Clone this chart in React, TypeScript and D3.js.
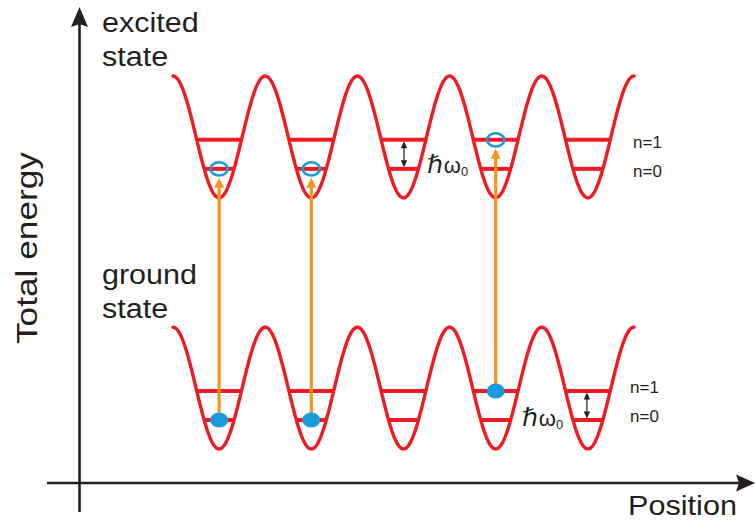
import React from "react";
import * as d3 from "d3";

// Schematic values (energies in units of ħω0 above the ground-state well bottom)
const wells = [0, 1, 2, 3, 4];
const wellDepth = 4.2;
const levelEnergies = [1, 2]; // n=0, n=1
const levelLabels = ["n=0", "n=1"];
const bandOffsets = [0, 8.66]; // ground, excited
const bandNames = [["ground", "state"], ["excited", "state"]];
const atomWells = [0, 1, 3];
const atomLevels = [0, 0, 1];
const spacingArrowWells = [4, 2]; // ground, excited

const RED = "#ed1c24";
const ORANGE = "#f7941d";
const BLUE = "#1a9cdc";
const INK = "#231f20";
const FONT = "'Liberation Sans', Arial, Helvetica, sans-serif";

const approxLen = (t: string, fs: number) => {
  const w: Record<string, number> = { e: 0.556, x: 0.5, c: 0.5, i: 0.222, t: 0.278, d: 0.556, s: 0.5, a: 0.556, g: 0.556, r: 0.333, o: 0.556, u: 0.556, n: 0.556 };
  return t.split("").reduce((s, ch) => s + (w[ch] ?? 0.556), 0) * fs;
};

export default function App() {
  const W = 755, H = 522;
  const x = d3.scaleLinear().domain([-0.5, 4.5]).range([173, 634]);
  const y = d3.scaleLinear().domain([0, 1]).range([449, 420]);
  const V = (u: number) => (wellDepth / 2) * (1 - Math.cos(2 * Math.PI * u));
  const halfWidth = (E: number) => Math.acos(1 - (2 * E) / wellDepth) / (2 * Math.PI);
  const us = d3.range(0, 601).map((i) => -0.5 + (i * 5) / 600);

  const potentials = bandOffsets.map((off) =>
    d3.line<number>().x((u) => x(u)).y((u) => y(off + V(u)))(us) as string
  );

  const levelLines: any[] = [];
  bandOffsets.forEach((off, b) =>
    wells.forEach((w) =>
      levelEnergies.forEach((E, n) => {
        const hw = halfWidth(E);
        levelLines.push({ key: `${b}-${w}-${n}`, x1: x(w - hw), x2: x(w + hw), y: y(off + E) });
      })
    )
  );

  const dblArrow = (cx: number, y1: number, y2: number, key: string) => {
    const t = y1 + 1.5, b = y2 - 1.5;
    return (
      <g key={key}>
        <line x1={cx} x2={cx} y1={t + 5} y2={b - 5} stroke={INK} strokeWidth={1.2} />
        <path d={`M${cx},${t} L${cx - 3.2},${t + 7} L${cx + 3.2},${t + 7} Z`} fill={INK} />
        <path d={`M${cx},${b} L${cx - 3.2},${b - 7} L${cx + 3.2},${b - 7} Z`} fill={INK} />
      </g>
    );
  };

  const labelScale = 1.13;

  return (
    <svg width={W} height={H} style={{ position: "absolute", left: 0, top: 0 }} fontFamily={FONT}>
      <rect width={W} height={H} fill="#fff" />
      {/* axes */}
      <line x1={79.5} x2={79.5} y1={512} y2={24} stroke={INK} strokeWidth={2.6} />
      <path d="M79.5,7 L71,27 L79.5,24 L88,27 Z" fill={INK} />
      <line x1={47} x2={740} y1={483} y2={483} stroke={INK} strokeWidth={2.6} />
      <path d="M755,483 L736,474.5 L739,483 L736,491.5 Z" fill={INK} />
      <text x={37} y={248} fontSize={30} fill={INK} textAnchor="middle" transform="rotate(-90,37,248)"
        textLength={192} lengthAdjust="spacingAndGlyphs">
        Total energy
      </text>
      <text x={628} y={515} fontSize={28} fill={INK} textLength={109} lengthAdjust="spacingAndGlyphs">Position</text>

      {/* band names */}
      {bandNames.map((lines, b) =>
        lines.map((t, i) => (
          <text key={`${b}-${i}`} x={102} y={(b === 1 ? 32 : 284) + i * 34} fontSize={27} fill={INK}
            textLength={approxLen(t, 27) * labelScale} lengthAdjust="spacingAndGlyphs">
            {t}
          </text>
        ))
      )}

      {/* potentials */}
      {potentials.map((d, i) => (
        <path key={i} d={d} fill="none" stroke={RED} strokeWidth={3.4} strokeLinecap="round" />
      ))}
      {levelLines.map((l) => (
        <line key={l.key} x1={l.x1} x2={l.x2} y1={l.y} y2={l.y} stroke={RED} strokeWidth={4} />
      ))}

      {/* level labels */}
      {bandOffsets.map((off, b) =>
        levelLabels.map((t, n) => (
          <text key={`${b}-${t}`} x={b === 1 ? 633 : 630} y={(b === 1 ? [177, 148] : [422, 393])[n]} fontSize={17} fill={INK}>
            {t}
          </text>
        ))
      )}

      {/* level spacing arrows */}
      {bandOffsets.map((off, b) =>
        dblArrow(
          b === 1 ? x(spacingArrowWells[b]) + 0.5 : x(spacingArrowWells[b]) - 1,
          y(off + levelEnergies[1]),
          y(off + levelEnergies[0]),
          `da${b}`
        )
      )}
      {[
        { x: 427, y: 173 },
        { x: 522, y: 426 },
      ].map((p, i) => (
        <text key={`hw${i}`} x={p.x} y={p.y} fill={INK}>
          <tspan fontSize={25} fontFamily="'DejaVu Sans', sans-serif">ℏ</tspan>
          <tspan fontSize={22} dx={1}>ω</tspan>
          <tspan fontSize={13} dy={3}>0</tspan>
        </text>
      ))}

      {/* transitions */}
      {atomWells.map((w, i) => {
        const cx = x(w);
        const yg = y(bandOffsets[0] + levelEnergies[atomLevels[i]]);
        const ye = y(bandOffsets[1] + levelEnergies[atomLevels[i]]);
        const tip = ye + 9;
        return (
          <g key={`t${i}`}>
            <line x1={cx} x2={cx} y1={yg - 6} y2={tip + 8} stroke={ORANGE} strokeWidth={3.2} />
            <path d={`M${cx},${tip} L${cx - 5},${tip + 10} L${cx + 5},${tip + 10} Z`} fill={ORANGE} />
            <ellipse cx={cx} cy={yg} rx={9} ry={7.5} fill={BLUE} />
            <ellipse cx={cx} cy={ye} rx={8.6} ry={6.6} fill="none" stroke={BLUE} strokeWidth={2.6} />
          </g>
        );
      })}
    </svg>
  );
}
